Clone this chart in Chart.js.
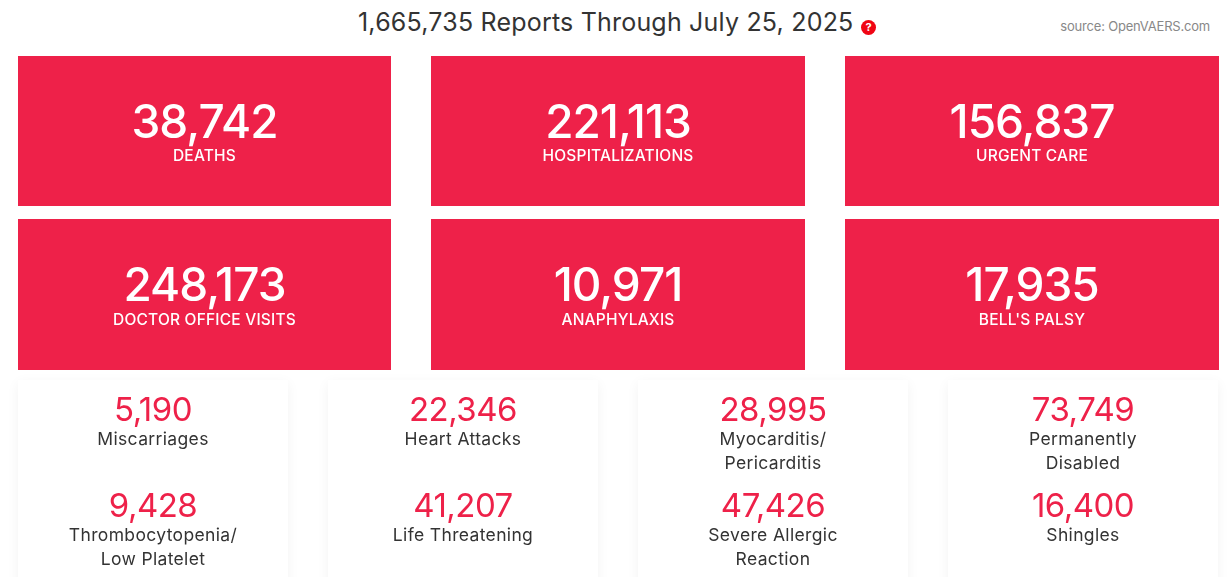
<!DOCTYPE html>
<html>
<head>
<meta charset="utf-8">
<script src="https://cdn.jsdelivr.net/npm/chart.js@4"></script>
<style>
  html, body { margin: 0; padding: 0; background: #fff; }
  body { position: relative; width: 1232px; height: 577px; overflow: hidden; font-family: Inter, sans-serif; }
  #title { position: absolute; left: 358px; top: 5px; font-size: 25px; line-height: 34px; color: #333; white-space: nowrap; letter-spacing: 0.2px; }
  #help { position: absolute; left: 861px; top: 20px; width: 15px; height: 15px; border-radius: 50%; background: #f00514; color: #fff; font-size: 11px; font-weight: 700; line-height: 15px; text-align: center; }
  #source { position: absolute; right: 22px; top: 18px; font-size: 13px; line-height: 16px; color: #888; letter-spacing: -0.2px; }
  .tile { position: absolute; }
  .tile canvas { display: block; }
  .card { position: absolute; top: 380px; width: 270px; height: 210px; background: #fff; box-shadow: 0 3px 12px rgba(0, 0, 0, 0.05); }
</style>
</head>
<body>
<div id="title">1,665,735 Reports Through July 25, 2025</div>
<div id="help">?</div>
<div id="source">source: OpenVAERS.com</div>
<script>
const RED = '#ee2149';

// top tiles
const mainLabels = ['DEATHS', 'HOSPITALIZATIONS', 'URGENT CARE', 'DOCTOR OFFICE VISITS', 'ANAPHYLAXIS', "BELL'S PALSY"];
const mainValues = [38742, 221113, 156837, 248173, 10971, 17935];

// white cards, two stats per card, read left to right
const cardLabels = [
  ['Miscarriages'], ['Heart Attacks'], ['Myocarditis/', 'Pericarditis'], ['Permanently', 'Disabled'],
  ['Thrombocytopenia/', 'Low Platelet'], ['Life Threatening'], ['Severe Allergic', 'Reaction'], ['Shingles']
];
const cardValues = [5190, 22346, 28995, 73749, 9428, 41207, 47426, 16400];

const mainLefts = [18, 431, 845];
const mainWidths = [373, 374, 374];
const mainTops = [56, 219];
const mainHeights = [150, 151];
const cardLefts = [18, 328, 638, 948];

// writes the number and its caption on top of the bar
const tileText = {
  id: 'tileText',
  afterDatasetsDraw(chart, args, opts) {
    const bar = chart.getDatasetMeta(0).data[0];
    const ctx = chart.ctx;
    const value = chart.data.datasets[0].data[0];
    ctx.save();
    ctx.textAlign = 'center';
    ctx.textBaseline = 'alphabetic';
    ctx.fillStyle = opts.numberColor;
    ctx.font = opts.numberFont;
    ctx.letterSpacing = opts.numberSpacing;
    ctx.fillText(value.toLocaleString('en-US'), bar.x, bar.y + opts.numberY);
    ctx.fillStyle = opts.labelColor;
    ctx.font = opts.labelFont;
    ctx.letterSpacing = opts.labelSpacing;
    [].concat(chart.data.labels[0]).forEach((line, i) => {
      ctx.fillText(line, bar.x, bar.y + opts.labelY + i * 24);
    });
    ctx.restore();
  }
};

function addTile(parent, left, top, width, height, label, value, color, text) {
  const box = document.createElement('div');
  box.className = 'tile';
  box.style.cssText = `left:${left}px;top:${top}px;width:${width}px;height:${height}px`;
  const canvas = document.createElement('canvas');
  canvas.width = width;
  canvas.height = height;
  box.appendChild(canvas);
  parent.appendChild(box);
  new Chart(canvas, {
    type: 'bar',
    data: {
      labels: [label],
      datasets: [{ data: [value], backgroundColor: color, barPercentage: 1, categoryPercentage: 1 }]
    },
    options: {
      responsive: false,
      animation: false,
      devicePixelRatio: 1,
      layout: { padding: 0 },
      scales: {
        x: { display: false },
        y: { display: false, min: 0, max: value }
      },
      plugins: { legend: { display: false }, tooltip: { enabled: false }, tileText: text }
    },
    plugins: [tileText]
  });
}

mainValues.forEach((value, i) => {
  const row = Math.floor(i / 3);
  addTile(document.body, mainLefts[i % 3], mainTops[row], mainWidths[i % 3], mainHeights[row], mainLabels[i], value, RED, {
    numberColor: '#fff', numberFont: '500 46px Inter', numberSpacing: '-1px', numberY: 82,
    labelColor: '#fff', labelFont: '500 15.5px Inter', labelSpacing: '0.2px', labelY: 105 + row
  });
});

cardLefts.forEach((left, col) => {
  const card = document.createElement('div');
  card.className = 'card';
  card.style.left = left + 'px';
  document.body.appendChild(card);
  [0, 1].forEach(row => {
    const i = row * 4 + col;
    addTile(card, 0, row * 96, 270, 96, cardLabels[i], cardValues[i], '#fff', {
      numberColor: RED, numberFont: '400 33px Inter', numberSpacing: '-0.5px', numberY: 41,
      labelColor: '#333', labelFont: '400 17.5px Inter', labelSpacing: '0.35px', labelY: 65
    });
  });
});
</script>
</body>
</html>
